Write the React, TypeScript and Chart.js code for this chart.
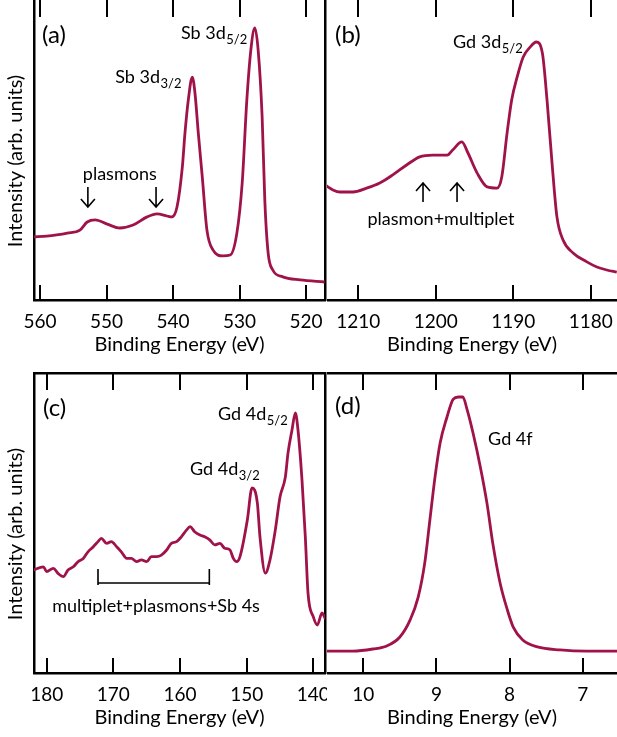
import React, { useEffect, useRef } from 'react';
import { Chart, registerables } from 'chart.js';

Chart.register(...registerables);

const LINE_COLOR = '#a0134a';
const FONT = 'Lato, "Noto Sans", sans-serif';

// ---------- Panel (a): Sb 3d ----------
const energyA = [561.0, 559.0, 557.5, 555.9, 554.0, 552.9, 551.7, 549.9, 548.0, 546.0, 543.9, 542.4, 540.9, 540.2, 539.4, 538.6, 538.2, 537.7, 537.1, 536.7, 536.2, 535.6, 534.9, 534.0, 532.5, 531.4, 530.4, 529.6, 528.9, 528.3, 527.7, 527.2, 526.6, 526.2, 525.7, 525.0, 523.5, 520.9, 517.2];
const intensityA = [21, 21.3, 21.7, 22.3, 23.3, 26, 26.7, 25.3, 24, 25, 27.7, 28.7, 28, 27.7, 31, 44.3, 55.7, 66.7, 74.3, 69, 55.7, 41, 23.3, 16.7, 14.7, 15, 22.3, 39, 66.7, 83.3, 90.7, 83.3, 61, 33.3, 15.7, 10, 7.7, 6.7, 6];

// ---------- Panel (b): Gd 3d ----------
const energyB = [1214.26, 1213.27, 1212.38, 1210.69, 1208.91, 1207.23, 1205.55, 1203.77, 1202.08, 1200.4, 1198.52, 1197.83, 1196.64, 1195.85, 1194.66, 1193.37, 1192.09, 1191.49, 1190.8, 1190.21, 1189.51, 1188.72, 1187.83, 1187.04, 1186.25, 1185.65, 1184.96, 1184.37, 1183.58, 1182.29, 1180.51, 1179.22, 1177.93, 1176.65];
const intensityB = [38.3, 36.7, 36, 36, 37.3, 39, 41.7, 45, 47.7, 48.3, 48.3, 50, 52.7, 49, 42.3, 37.7, 37.3, 41, 55.7, 66.7, 74.3, 81, 84.3, 86, 82.3, 66.7, 44.3, 27.7, 20, 15.7, 12.7, 11, 10, 9.3];

// ---------- Panel (c): Gd 4d ----------
const energyC = [182.0, 180.5, 180.0, 179.0, 178.3, 177.5, 176.8, 176.0, 175.3, 174.5, 173.8, 173.0, 172.3, 171.8, 171.0, 170.3, 169.5, 168.8, 168.0, 167.3, 166.5, 165.8, 165.0, 164.3, 163.5, 162.8, 162.0, 161.3, 160.5, 159.8, 159.0, 158.5, 157.8, 157.0, 156.3, 155.5, 154.8, 154.0, 153.3, 152.5, 152.0, 151.5, 151.0, 149.9, 149.2, 148.4, 148.0, 147.2, 146.5, 145.7, 145.0, 144.2, 143.8, 143.2, 142.7, 142.3, 141.7, 141.2, 140.8, 140.0, 139.4, 138.7, 138.2];
const intensityC = [34.3, 35.4, 33.8, 34.9, 33.2, 32.1, 34.3, 35.4, 37.1, 38.2, 40.4, 42.1, 43.8, 44.9, 43.2, 43.8, 42.1, 40.4, 38.2, 38.2, 37.1, 37.7, 37.1, 38.8, 38.8, 39.3, 41, 43.2, 43.8, 45.4, 47.7, 48.8, 47.1, 46, 45.4, 44.3, 42.7, 43.2, 41.6, 41, 38.2, 37.1, 38.8, 51, 61.7, 56.7, 45.3, 33.3, 37.7, 47.7, 58.7, 65.3, 73.3, 81, 86.7, 81, 64.3, 45.3, 26.7, 18.7, 16, 20, 18];

// ---------- Panel (d): Gd 4f ----------
const energyD = [10.5, 10.14, 9.87, 9.68, 9.5, 9.36, 9.25, 9.16, 9.09, 9.02, 8.95, 8.86, 8.77, 8.70, 8.64, 8.58, 8.50, 8.40, 8.31, 8.23, 8.13, 8.03, 7.95, 7.82, 7.62, 7.31, 6.94, 6.5];
const intensityD = [7.3, 7.3, 8, 9, 12, 17.7, 25.3, 36.7, 51, 65.3, 76.7, 85, 91.3, 92, 92, 87.7, 80, 68.7, 56.7, 43.3, 30, 21, 15.3, 11, 8.7, 7.7, 7.3, 7.3];

const X_TITLE = 'Binding Energy (eV)';
const Y_TITLE = 'Intensity (arb. units)';

type Item =
  | { type: 'text'; x: number; y: number; text: string; sub?: string; align?: 'left' | 'center'; size?: number }
  | { type: 'arrow'; x: number; y1: number; y2: number }
  | { type: 'bracket'; x1: number; x2: number; y: number; yTop: number; yBot: number };

interface Panel {
  energy: number[];
  intensity: number[];
  xMin: number;
  xMax: number;
  step: number;
  yWidth: number;
  xHeight: number;
  titlePad: number;
  padding: { left: number; top: number; right: number; bottom: number };
  frame: { top: boolean; left: boolean; right: boolean };
  yTitle: boolean;
  items: Item[];
}

// inward tick marks on the bottom and top frame, taken from the x scale's ticks
const tickPlugin = {
  id: 'innerTicks',
  afterDraw(chart: any) {
    const ctx = chart.ctx;
    const area = chart.chartArea;
    const xs = chart.scales.x;
    const n = xs.ticks.length;
    ctx.save();
    for (let i = 0; i < n; i++) {
      const px = Math.round(xs.getPixelForTick(i));
      ctx.fillStyle = '#000';
      ctx.fillRect(px - 1, area.bottom - 15, 2, 15);
      ctx.fillRect(px - 1, area.top, 2, 17);
    }
    ctx.restore();
  },
};

function makeAnnotPlugin(p: Panel) {
  return {
    id: 'xpsAnnot',
    afterDraw(chart: any) {
      const ctx = chart.ctx;
      const chartArea = chart.chartArea;
      const xs = chart.scales.x;
      const ys = chart.scales.y;
      ctx.save();
      ctx.fillStyle = '#000';
      ctx.strokeStyle = '#000';
      ctx.textBaseline = 'alphabetic';
      for (const it of p.items) {
        if (it.type === 'text') {
          const px = xs.getPixelForValue(it.x);
          const py = ys.getPixelForValue(it.y);
          const size = it.size || 18;
          ctx.font = `${size}px ${FONT}`;
          const w = ctx.measureText(it.text).width;
          let subW = 0;
          if (it.sub) {
            ctx.font = `13px ${FONT}`;
            subW = ctx.measureText(it.sub).width;
          }
          const start = it.align === 'center' ? px - (w + subW) / 2 : px;
          ctx.font = `${size}px ${FONT}`;
          ctx.textAlign = 'left';
          ctx.fillText(it.text, start, py);
          if (it.sub) {
            ctx.font = `13px ${FONT}`;
            ctx.fillText(it.sub, start + w + 0.5, py + 5);
          }
        } else if (it.type === 'arrow') {
          const px = xs.getPixelForValue(it.x);
          const p1 = ys.getPixelForValue(it.y1);
          const p2 = ys.getPixelForValue(it.y2);
          const dir = p2 > p1 ? 1 : -1;
          ctx.lineWidth = 1.6;
          ctx.beginPath();
          ctx.moveTo(px, p1);
          ctx.lineTo(px, p2);
          ctx.moveTo(px - 7, p2 - dir * 8);
          ctx.lineTo(px, p2);
          ctx.lineTo(px + 7, p2 - dir * 8);
          ctx.stroke();
        } else if (it.type === 'bracket') {
          const a = xs.getPixelForValue(it.x1);
          const b = xs.getPixelForValue(it.x2);
          const py = ys.getPixelForValue(it.y);
          const t = ys.getPixelForValue(it.yTop);
          const bt = ys.getPixelForValue(it.yBot);
          ctx.lineWidth = 1.6;
          ctx.beginPath();
          ctx.moveTo(a, t);
          ctx.lineTo(a, bt);
          ctx.moveTo(b, t);
          ctx.lineTo(b, bt);
          ctx.moveTo(a, py);
          ctx.lineTo(b, py);
          ctx.stroke();
        }
      }
      if (p.yTitle) {
        ctx.font = `20px ${FONT}`;
        ctx.textAlign = 'center';
        ctx.translate(chartArea.left - 12, (chartArea.top + chartArea.bottom) / 2 + 11);
        ctx.rotate(-Math.PI / 2);
        ctx.fillText(Y_TITLE, 0, 0);
      }
      ctx.restore();
    },
  };
}

function border(show: boolean) {
  return { display: show, color: '#000', width: 2.5 };
}

function makeConfig(p: Panel): any {
  return {
    type: 'line',
    data: {
      datasets: [
        {
          data: p.energy.map((e, i) => ({ x: e, y: p.intensity[i] })),
          borderColor: LINE_COLOR,
          borderWidth: 2.8,
          pointRadius: 0,
          cubicInterpolationMode: 'monotone',
          fill: false,
        },
      ],
    },
    options: {
      responsive: false,
      maintainAspectRatio: false,
      animation: false,
      layout: { padding: p.padding },
      plugins: {
        legend: { display: false },
        tooltip: { enabled: false },
      },
      scales: {
        x: {
          type: 'linear',
          position: 'bottom',
          reverse: true,
          min: p.xMin,
          max: p.xMax,
          afterFit: (s: any) => {
            s.height = p.xHeight;
            s.paddingLeft = 0;
            s.paddingRight = 0;
          },
          ticks: {
            stepSize: p.step,
            includeBounds: false,
            autoSkip: false,
            maxRotation: 0,
            callback: (v: any) => String(v),
            color: '#000',
            font: { family: FONT, size: 19 },
            padding: 10,
          },
          grid: { display: false, drawTicks: false },
          border: border(true),
          title: {
            display: true,
            text: X_TITLE,
            color: '#000',
            font: { family: FONT, size: 20 },
            padding: { top: 0, bottom: p.titlePad },
          },
        },
        xTop: {
          type: 'linear',
          position: 'top',
          reverse: true,
          min: p.xMin,
          max: p.xMax,
          afterFit: (s: any) => {
            s.height = 0;
            s.paddingLeft = 0;
            s.paddingRight = 0;
          },
          ticks: { display: false },
          grid: { display: false, drawTicks: false },
          border: border(p.frame.top),
        },
        y: {
          min: 0,
          max: 100,
          afterFit: (s: any) => {
            s.width = p.yWidth;
          },
          ticks: { display: false },
          grid: { display: false, drawTicks: false },
          border: border(p.frame.left),
        },
        yRight: {
          position: 'right',
          min: 0,
          max: 100,
          afterFit: (s: any) => {
            s.width = 0;
          },
          ticks: { display: false },
          grid: { display: false, drawTicks: false },
          border: border(p.frame.right),
        },
      },
    },
    plugins: [tickPlugin, makeAnnotPlugin(p)],
  };
}

const panelA: Panel = {
  energy: energyA,
  intensity: intensityA,
  xMin: 517.15,
  xMax: 560.9,
  step: 10,
  yWidth: 34,
  xHeight: 70,
  titlePad: 13,
  padding: { left: 0, top: 0, right: 2, bottom: 0 },
  frame: { top: false, left: true, right: true },
  yTitle: true,
  items: [
    { type: 'text', x: 559.7, y: 85.7, text: '(a)', size: 24 },
    { type: 'text', x: 538.8, y: 87, text: 'Sb 3d', sub: '5/2' },
    { type: 'text', x: 548.7, y: 72.3, text: 'Sb 3d', sub: '3/2' },
    { type: 'text', x: 548.0, y: 40, text: 'plasmons', align: 'center' },
    { type: 'arrow', x: 552.8, y1: 37.7, y2: 31 },
    { type: 'arrow', x: 542.55, y1: 37.7, y2: 31 },
  ],
};

const panelB: Panel = {
  energy: energyB,
  intensity: intensityB,
  xMin: 1176.62,
  xMax: 1214.04,
  step: 10,
  yWidth: 0,
  xHeight: 70,
  titlePad: 13,
  padding: { left: 0, top: 0, right: 0, bottom: 0 },
  frame: { top: false, left: false, right: false },
  yTitle: false,
  items: [
    { type: 'text', x: 1213.0, y: 85.7, text: '(b)', size: 24 },
    { type: 'text', x: 1197.78, y: 84, text: 'Gd 3d', sub: '5/2' },
    { type: 'arrow', x: 1201.65, y1: 32.7, y2: 39 },
    { type: 'arrow', x: 1197.26, y1: 32.7, y2: 39 },
    { type: 'text', x: 1199.33, y: 25, text: 'plasmon+multiplet', align: 'center' },
  ],
};

const panelC: Panel = {
  energy: energyC,
  intensity: intensityC,
  xMin: 138.25,
  xMax: 181.9,
  step: 10,
  yWidth: 34,
  xHeight: 64,
  titlePad: 7,
  padding: { left: 0, top: 3, right: 2, bottom: 0 },
  frame: { top: true, left: true, right: true },
  yTitle: true,
  items: [
    { type: 'text', x: 180.55, y: 85.7, text: '(c)', size: 24 },
    { type: 'text', x: 154.3, y: 84.3, text: 'Gd 4d', sub: '5/2' },
    { type: 'text', x: 158.5, y: 66, text: 'Gd 4d', sub: '3/2' },
    { type: 'bracket', x1: 172.3, x2: 155.6, y: 30, yTop: 34.7, yBot: 29.3 },
    { type: 'text', x: 163.6, y: 20.3, text: 'multiplet+plasmons+Sb 4s', align: 'center' },
  ],
};

const panelD: Panel = {
  energy: energyD,
  intensity: intensityD,
  xMin: 6.531,
  xMax: 10.497,
  step: 1,
  yWidth: 0,
  xHeight: 64,
  titlePad: 7,
  padding: { left: 0, top: 3, right: 0, bottom: 0 },
  frame: { top: true, left: false, right: false },
  yTitle: false,
  items: [
    { type: 'text', x: 10.387, y: 86.3, text: '(d)', size: 24 },
    { type: 'text', x: 8.294, y: 76, text: 'Gd 4f' },
  ],
};

function ChartCanvas({ panel, left, top, width, height }: { panel: Panel; left: number; top: number; width: number; height: number }) {
  const ref = useRef<HTMLCanvasElement | null>(null);
  useEffect(() => {
    if (!ref.current) return;
    const chart = new Chart(ref.current, makeConfig(panel));
    return () => chart.destroy();
  }, [panel]);
  return (
    <canvas
      ref={ref}
      width={width}
      height={height}
      style={{ position: 'absolute', left, top, width, height }}
    />
  );
}

export default function App() {
  return (
    <div
      style={{
        position: 'fixed',
        left: 0,
        top: 0,
        width: 617,
        height: 737,
        background: '#fff',
      }}
    >
      <ChartCanvas panel={panelA} left={0} top={0} width={327} height={370} />
      <ChartCanvas panel={panelB} left={327} top={0} width={290} height={370} />
      <ChartCanvas panel={panelC} left={0} top={370} width={327} height={367} />
      <ChartCanvas panel={panelD} left={327} top={370} width={290} height={367} />
    </div>
  );
}
